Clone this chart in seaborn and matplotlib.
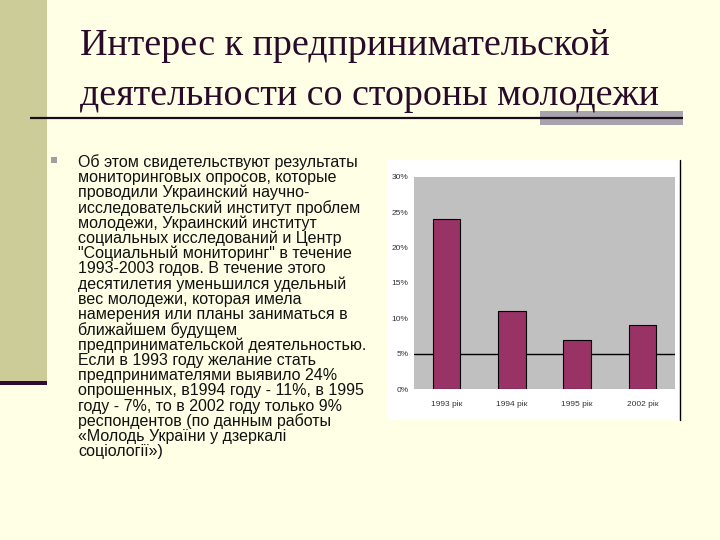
import matplotlib
matplotlib.use("Agg")
import matplotlib.pyplot as plt
from matplotlib.patches import Rectangle
import seaborn as sns
import pandas as pd

# ---- data ----
years = ["1993 рік", "1994 рік", "1995 рік", "2002 рік"]
shares = [24, 11, 7, 9]
y_ticks = [0, 5, 10, 15, 20, 25, 30]
y_tick_labels = ["0%", "5%", "10%", "15%", "20%", "25%", "30%"]

title_lines = ["Интерес к предпринимательской",
               "деятельности со стороны молодежи"]
body_lines = [
    "Об этом свидетельствуют результаты",
    "мониторинговых опросов, которые",
    "проводили Украинский научно-",
    "исследовательский институт проблем",
    "молодежи, Украинский институт",
    "социальных исследований и Центр",
    "\"Социальный мониторинг\" в течение",
    "1993-2003 годов. В течение этого",
    "десятилетия уменьшился удельный",
    "вес молодежи, которая имела",
    "намерения или планы заниматься в",
    "ближайшем будущем",
    "предпринимательской деятельностью.",
    "Если в 1993 году желание стать",
    "предпринимателями выявило 24%",
    "опрошенных, в1994 году - 11%, в 1995",
    "году - 7%, то в 2002 году только 9%",
    "респондентов (по данным работы",
    "«Молодь України у дзеркалі",
    "соціології»)",
]

sns.set_theme(style="white")
plt.rcParams['font.family'] = ['Liberation Sans', 'DejaVu Sans']

W, H = 720, 540
fig = plt.figure(figsize=(7.2, 5.4), dpi=100)
bgc = "#FFFFE6"
fig.patch.set_facecolor(bgc)

# background / slide decoration axes in pixel coordinates
bg = fig.add_axes([0, 0, 1, 1])
bg.set_xlim(0, W)
bg.set_ylim(H, 0)
bg.axis("off")
bg.add_patch(Rectangle((0, 0), 47, 382, color="#CCCC99", lw=0))
bg.add_patch(Rectangle((0, 381), 47, 4, color="#330A33", lw=0))
bg.add_patch(Rectangle((540, 111), 143, 14, color="#A8A3AD", lw=0))
bg.plot([30, 683], [117.5, 117.5], color="#1A0A1A", lw=1.6, solid_capstyle="butt")
bg.add_patch(Rectangle((51, 157), 6, 6, color="#A0A0A0", lw=0))
bg.add_patch(Rectangle((387, 160), 293, 260, color="white", lw=0))
bg.plot([680, 680], [160, 420], color="black", lw=1)

for i, t in enumerate(title_lines):
    bg.text(80, 46 + i * 50, t, fontsize=27.4, family=["Liberation Serif", "DejaVu Serif"],
            color="#2A0A2A", va="center", ha="left")

for i, t in enumerate(body_lines):
    bg.text(78, 162 + i * 15.26, t, fontsize=11.5, color="#111111",
            va="center", ha="left")

# chart axes
l, r, t_, b = 414, 675, 177, 389
ax = fig.add_axes([l / W, 1 - b / H, (r - l) / W, (b - t_) / H])
ax.set_facecolor("#C0C0C0")
df = pd.DataFrame({"year": years, "share": shares})
sns.barplot(data=df, x="year", y="share", color="#993366", saturation=1,
            width=0.42, edgecolor="black", linewidth=0.8, ax=ax)
ax.axhline(5, color="black", lw=1, zorder=0.5)
ax.set_ylim(0, 30)
ax.set_xlim(-0.5, 3.5)
ax.set_yticks(y_ticks)
ax.set_yticklabels(y_tick_labels, fontsize=6, color="#333333")
ax.tick_params(axis="x", labelsize=6, colors="#333333", length=0, pad=8)
ax.tick_params(axis="y", length=0, pad=4)
ax.set_xlabel("")
ax.set_ylabel("")
for s in ax.spines.values():
    s.set_visible(False)

fig.savefig("out.png", dpi=100, facecolor=bgc)
